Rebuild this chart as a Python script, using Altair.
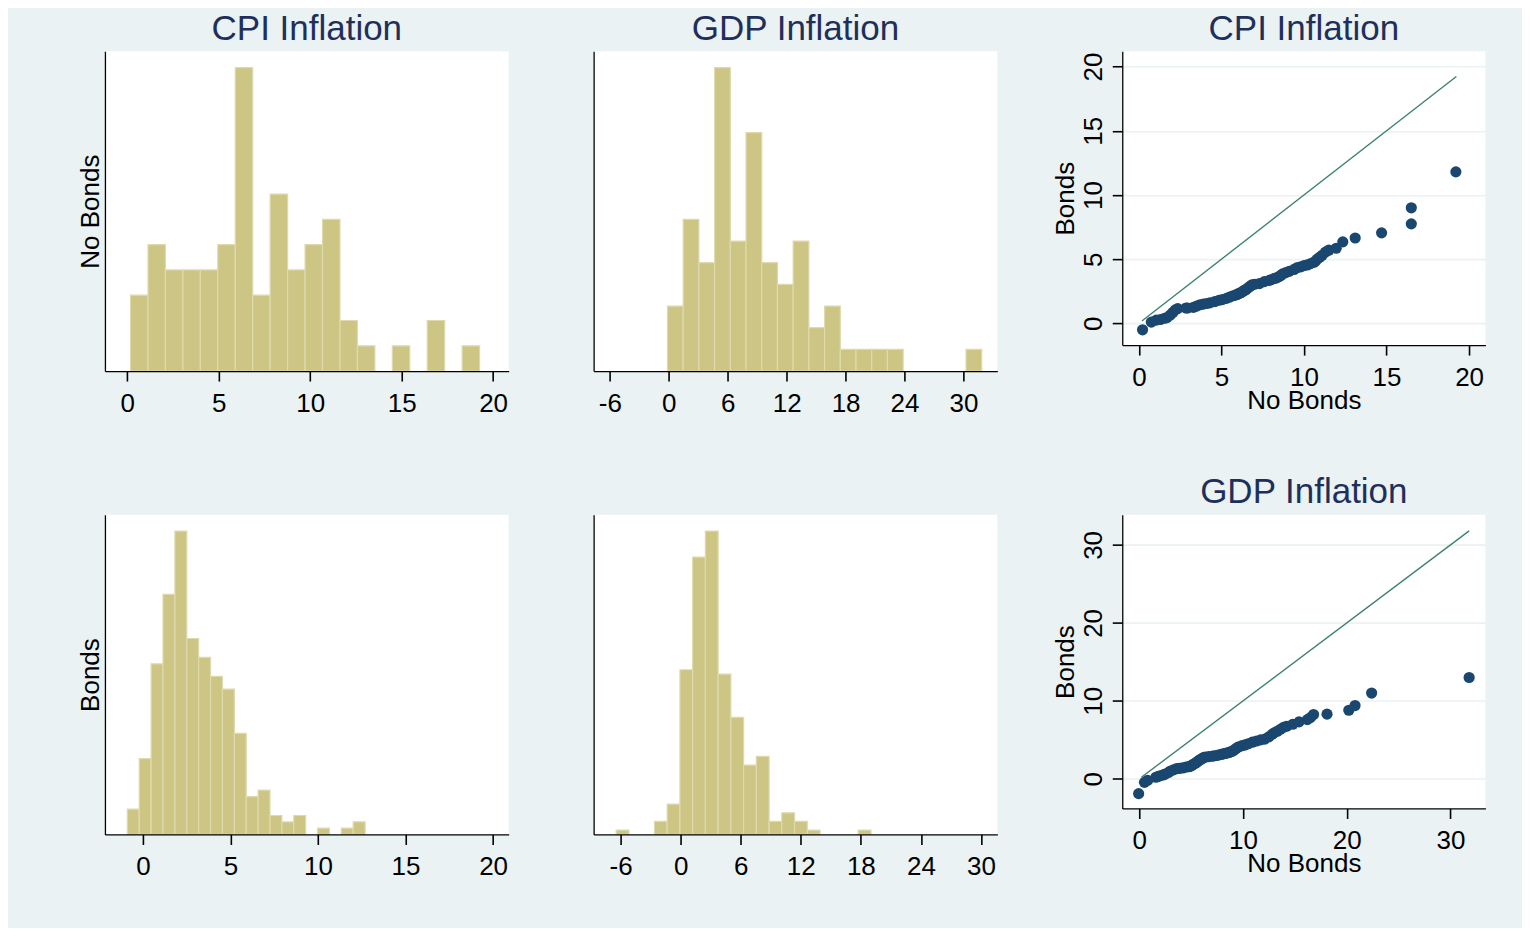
import altair as alt
import pandas as pd

F = "Liberation Sans"
BG = "#EAF2F3"
BAR_FILL = "#CCC584"
BAR_EDGE = "#DEDAAE"
NAVY = "#1A476F"
LINE_C = "#3F8270"
TITLE_C = "#1F2F5C"

# ---------------- histogram data (20 bins each) ----------------
cpi_nb_start, cpi_nb_width = 0.18, 0.954
cpi_nb_counts = [3, 5, 4, 4, 4, 5, 12, 3, 7, 4, 5, 6, 2, 1, 0, 1, 0, 2, 0, 1]

gdp_nb_start, gdp_nb_width = -0.14, 1.60
gdp_nb_counts = [3, 7, 5, 14, 6, 11, 5, 4, 6, 2, 3, 1, 1, 1, 1, 0, 0, 0, 0, 1]

cpi_b_start, cpi_b_width = -0.89, 0.679
cpi_b_counts = [4, 12, 27, 38, 48, 31, 28, 25, 23, 16, 6, 7, 3, 2, 3, 0, 1, 0, 1, 2]

gdp_b_start, gdp_b_width = -6.43, 1.272
gdp_b_counts = [1, 0, 0, 3, 7, 38, 64, 70, 37, 27, 16, 18, 3, 5, 3, 1, 0, 0, 0, 1]

cpi_ticks = [0, 5, 10, 15, 20]
gdp_ticks = [-6, 0, 6, 12, 18, 24, 30]

# ---------------- Q-Q data ----------------
qq_cpi_x = [0.22, 0.75, 1.05, 1.3, 1.55, 1.7, 1.9, 2.05, 2.2, 2.35, 2.85, 2.95,
            3.3, 3.5, 3.7, 3.9, 4.1, 4.3, 4.6, 4.85, 5.05, 5.3, 5.5, 5.7, 5.85,
            5.95, 6.0, 6.1, 6.2, 6.3, 6.35, 6.45, 6.5, 6.6, 6.7, 6.8, 6.85,
            7.0, 7.3, 7.6, 7.9, 8.0, 8.2, 8.35, 8.5, 8.6, 8.7, 8.9, 9.1, 9.4, 9.6,
            9.8, 10.0, 10.2, 10.4, 10.6, 10.7, 10.8, 10.95, 11.1, 11.3, 11.5,
            11.95, 12.35, 13.1, 14.7, 16.5, 16.5, 19.2]
qq_cpi_y = [-0.5, 0.1, 0.25, 0.3, 0.4, 0.45, 0.65, 0.85, 1.05, 1.15, 1.2, 1.2,
            1.25, 1.35, 1.45, 1.5, 1.55, 1.6, 1.7, 1.8, 1.85, 1.95, 2.05, 2.15, 2.2,
            2.25, 2.3, 2.35, 2.4, 2.5, 2.55, 2.6, 2.65, 2.75, 2.85, 2.95, 3.0,
            3.05, 3.1, 3.25, 3.35, 3.4, 3.5, 3.55, 3.65, 3.75, 3.85, 3.95, 4.05, 4.2, 4.35,
            4.4, 4.5, 4.55, 4.65, 4.75, 4.85, 5.0, 5.15, 5.3, 5.55, 5.7,
            5.85, 6.35, 6.65, 7.05, 7.75, 9.0, 11.8]
qq_cpi_line = [0.18, 19.23]

qq_gdp_x = [-0.06, 0.5, 0.8, 1.6, 1.8, 2.0, 2.3, 2.5, 2.8, 3.0,
            3.3, 3.6, 3.9, 4.2, 4.5,
            4.75, 4.85, 4.95, 5.05, 5.15, 5.25, 5.4, 5.5, 5.6, 5.75, 5.85, 6.0, 6.1, 6.25,
            6.4, 6.7, 7.0, 7.2, 7.5, 7.8,
            7.95, 8.1, 8.25, 8.4, 8.55, 8.7, 8.85, 9.0, 9.15, 9.3, 9.45,
            9.6, 9.9, 10.2, 10.5, 10.9, 11.3, 11.7, 12.1, 12.5,
            12.8, 13.0, 13.3, 13.6, 13.9, 14.2, 14.8, 15.4, 16.2, 16.5, 16.8,
            18.1, 20.2, 20.8, 22.4, 31.8]
qq_gdp_y = [-1.9, -0.45, -0.2, 0.2, 0.3, 0.4, 0.5, 0.6, 0.8, 1.0,
            1.15, 1.3, 1.35, 1.4, 1.5,
            1.55, 1.6, 1.65, 1.7, 1.8, 1.9, 2.0, 2.1, 2.2, 2.35, 2.45, 2.55, 2.65, 2.75,
            2.8, 2.85, 2.9, 2.95, 3.0, 3.1,
            3.15, 3.2, 3.25, 3.3, 3.35, 3.4, 3.5, 3.55, 3.7, 3.85, 4.0,
            4.1, 4.25, 4.35, 4.5, 4.7, 4.85, 5.0, 5.1, 5.4,
            5.7, 5.9, 6.1, 6.35, 6.6, 6.75, 7.0, 7.3, 7.6, 7.85, 8.25,
            8.3, 8.8, 9.4, 11.0, 13.0]
qq_gdp_line = [0.2, 31.8]

HIST_W, HIST_H = 404, 320
QQ_W, QQ_H = 363.4, 294
TITLE_OFFSET = -23.4


def title_params(text):
    return alt.TitleParams(text=text, font=F, fontSize=35, fontWeight="normal",
                           color=TITLE_C, baseline="alphabetic", offset=TITLE_OFFSET,
                           anchor="middle", frame="group")


def hist_frame(start, width, counts):
    rows = []
    for i, c in enumerate(counts):
        if c > 0:
            lo = start + i * width
            rows.append({"lo": lo, "hi": lo + width, "n": c, "base": 0})
    return pd.DataFrame(rows)


def hist(start, width, counts, xdom, ticks, title=None, ytitle=None):
    df = hist_frame(start, width, counts)
    xaxis = alt.Axis(values=ticks, title=None, grid=False, zindex=1,
                     labelExpr="'' + datum.value",
                     labelFont=F, labelFontSize=26, labelColor="black",
                     labelPadding=9.5, labelFlush=False, labelOverlap=False,
                     tickSize=10, tickWidth=1.6, tickColor="black",
                     domainColor="black", domainWidth=1.3)
    yargs = dict(labels=False, ticks=False, grid=False, zindex=1,
                 domainColor="black", domainWidth=1.3)
    if ytitle:
        yaxis = alt.Axis(title=ytitle, titleFont=F, titleFontSize=26,
                         titleFontWeight="normal", titleColor="black",
                         titleAngle=270, titleBaseline="alphabetic",
                         titleAlign="center", titleX=-6.5, titleY=HIST_H / 2,
                         **yargs)
    else:
        yaxis = alt.Axis(title=None, **yargs)
    ymax = max(counts) * 1.054
    ch = alt.Chart(df).mark_bar(fill=BAR_FILL, stroke=BAR_EDGE, strokeWidth=1.2).encode(
        x=alt.X("lo:Q", scale=alt.Scale(domain=xdom, nice=False, zero=False), axis=xaxis),
        x2="hi:Q",
        y=alt.Y("n:Q", scale=alt.Scale(domain=[0, ymax], nice=False), axis=yaxis),
        y2="base:Q",
    )
    props = dict(width=HIST_W, height=HIST_H,
                 view=alt.ViewBackground(fill="white", strokeWidth=0))
    if title:
        props["title"] = title_params(title)
    return ch.properties(**props)


def qq(xs, ys, line, xdom, ydom, xticks, yticks, title):
    pts = pd.DataFrame({"x": xs, "y": ys})
    ln = pd.DataFrame({"x": line, "y": line})
    xenc = alt.X("x:Q", scale=alt.Scale(domain=xdom, nice=False, zero=False),
                 axis=alt.Axis(values=xticks, title="No Bonds", grid=False,
                               titleFont=F, titleFontSize=26, titleFontWeight="normal",
                               titleColor="black", titleBaseline="alphabetic", titleY=63.5,
                               labelFont=F, labelFontSize=26, labelColor="black",
                               labelPadding=9.5, labelFlush=False, labelOverlap=False,
                               tickSize=10, tickWidth=1.6, tickColor="black",
                               domainColor="black", domainWidth=1.3))
    yenc = alt.Y("y:Q", scale=alt.Scale(domain=ydom, nice=False, zero=False),
                 axis=alt.Axis(values=yticks, title="Bonds", grid=True,
                               gridColor=BG, gridWidth=1.6,
                               titleFont=F, titleFontSize=26, titleFontWeight="normal",
                               titleColor="black", titleAngle=270, titleBaseline="alphabetic",
                               titleAlign="center", titleX=-49, titleY=QQ_H / 2,
                               labelFont=F, labelFontSize=26, labelColor="black",
                               labelAngle=270, labelAlign="center", labelBaseline="alphabetic",
                               labelPadding=10.6, labelFlush=False, labelOverlap=False,
                               tickSize=10, tickWidth=1.6, tickColor="black",
                               domainColor="black", domainWidth=1.3))
    line_ch = alt.Chart(ln).mark_line(color=LINE_C, strokeWidth=1.4).encode(x=xenc, y=yenc)
    pt_ch = alt.Chart(pts).mark_circle(size=125, color=NAVY, opacity=1).encode(x=xenc, y=yenc)
    return alt.layer(line_ch, pt_ch).properties(
        width=QQ_W, height=QQ_H,
        view=alt.ViewBackground(fill="white", strokeWidth=0),
        title=title_params(title),
    )


def spacer(w):
    return alt.Chart(pd.DataFrame({"a": [0]})).mark_point(opacity=0).encode(
        x=alt.value(0), y=alt.value(0)
    ).properties(width=w, height=10,
                 view=alt.ViewBackground(fill="transparent", strokeWidth=0))


A = hist(cpi_nb_start, cpi_nb_width, cpi_nb_counts, [-1.22, 20.85], cpi_ticks,
         title="CPI Inflation", ytitle="No Bonds")
B = hist(gdp_nb_start, gdp_nb_width, gdp_nb_counts, [-7.66, 33.45], gdp_ticks,
         title="GDP Inflation")
C = qq(qq_cpi_x, qq_cpi_y, qq_cpi_line, [-1.01, 20.99], [-1.69, 21.19],
       [0, 5, 10, 15, 20], [0, 5, 10, 15, 20], "CPI Inflation")
D = hist(cpi_b_start, cpi_b_width, cpi_b_counts, [-2.17, 20.89], cpi_ticks,
         ytitle="Bonds")
E = hist(gdp_b_start, gdp_b_width, gdp_b_counts, [-8.69, 31.63], gdp_ticks)
Fq = qq(qq_gdp_x, qq_gdp_y, qq_gdp_line, [-1.64, 33.37], [-3.80, 33.88],
        [0, 10, 20, 30], [0, 10, 20, 30], "GDP Inflation")

chart = alt.concat(
    A, spacer(44.4), B, spacer(85), C,
    D, spacer(44.4), E, spacer(85), Fq,
    columns=5,
    spacing=alt.RowColnumber(row=143.7, column=20),
    bounds="flush",
    align="each",
).properties(
    background=BG,
    padding={"left": 69, "top": 3, "right": 36, "bottom": 47},
).configure_view(strokeWidth=0)

chart.save("out.html", embed_options={"renderer": "svg", "actions": False})
